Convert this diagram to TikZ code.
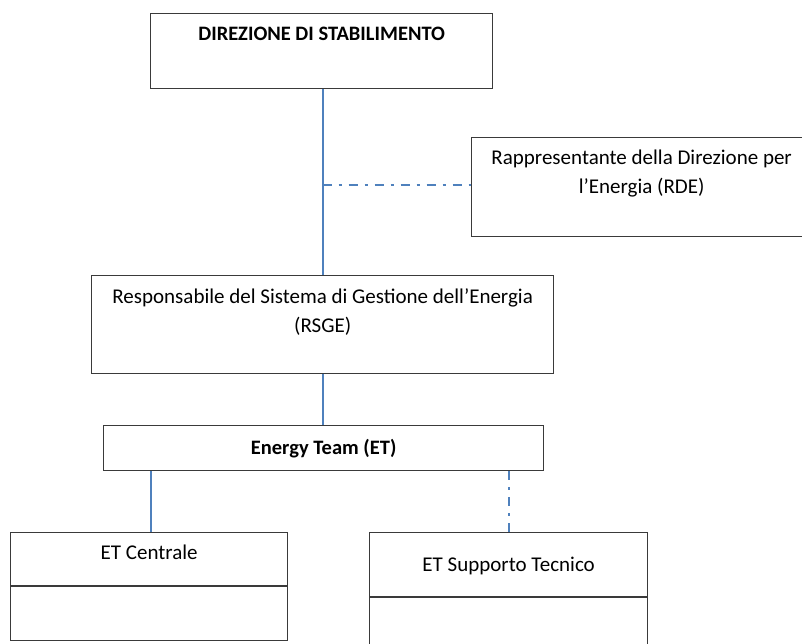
\documentclass[tikz,border=0pt]{standalone}
\usepackage{fontspec}
\setmainfont{Carlito}
\usetikzlibrary{calc}
\definecolor{linkblue}{HTML}{4F81BD}
\definecolor{boxgray}{HTML}{3A3A3A}
\tikzset{
  orgbox/.style={draw=boxgray, line width=1.3pt, rectangle, inner sep=0pt, anchor=north west},
  lbl/.style={font=\fontsize{21}{29}\selectfont, align=center, inner sep=0pt, text=black, anchor=base},
  boldlbl/.style={lbl, font=\bfseries\fontsize{20.5}{29}\selectfont},
  solidlink/.style={draw=linkblue, line width=2pt},
  dashdotlink/.style={draw=linkblue, line width=2pt, dash pattern=on 9pt off 7pt on 3pt off 7pt}
}
\begin{document}
\begin{tikzpicture}[x=1pt,y=-1pt]
\useasboundingbox (0,0) rectangle (802,643);
% boxes
\node[orgbox, minimum width=342pt, minimum height=75pt] (dir) at (150,13) {};
\node[orgbox, minimum width=340pt, minimum height=99pt] (rde) at (471,137) {};
\node[orgbox, minimum width=462pt, minimum height=98pt] (rsge) at (91,275) {};
\node[orgbox, minimum width=440pt, minimum height=45pt] (et) at (103,425) {};
\node[orgbox, minimum width=277pt, minimum height=108pt] (cen) at (10,532) {};
\node[orgbox, minimum width=278pt, minimum height=130pt] (sup) at (369,532) {};
% texts
\node[boldlbl] (tdir) at ($(dir.north)+(0,27)$) {DIREZIONE DI STABILIMENTO};
\node[lbl] (trde) at ($(rde.north)+(0,56)$) {Rappresentante della Direzione per\\l’Energia (RDE)};
\node[lbl] (trsge) at ($(rsge.north)+(0,57)$) {Responsabile del Sistema di Gestione dell’Energia\\(RSGE)};
\node[boldlbl] (tet) at ($(et.north)+(0,29)$) {Energy Team (ET)};
\node[lbl] (tcen) at ($(cen.north)+(0,27)$) {ET Centrale};
\node[lbl] (tsup) at ($(sup.north)+(0,39)$) {ET Supporto Tecnico};
% dividers
\draw[boxgray, line width=1.6pt] ($(cen.north west)+(0,54)$) -- ($(cen.north east)+(0,54)$);
\draw[boxgray, line width=1.6pt] ($(sup.north west)+(0,65)$) -- ($(sup.north east)+(0,65)$);
% connectors
\coordinate (junc) at ($(dir.south)+(1,96)$);
\draw[solidlink] ($(dir.south)+(1,0)$) -- (rsge.north);
\draw[dashdotlink] (junc) -- (junc -| rde.west);
\draw[solidlink] (rsge.south) -- (rsge.south |- et.north);
\draw[solidlink] ($(cen.north)+(2,0)$) -- ($(cen.north |- et.south)+(2,0)$);
\draw[dashdotlink] (sup.north |- et.south) -- (sup.north);
\end{tikzpicture}
\end{document}
